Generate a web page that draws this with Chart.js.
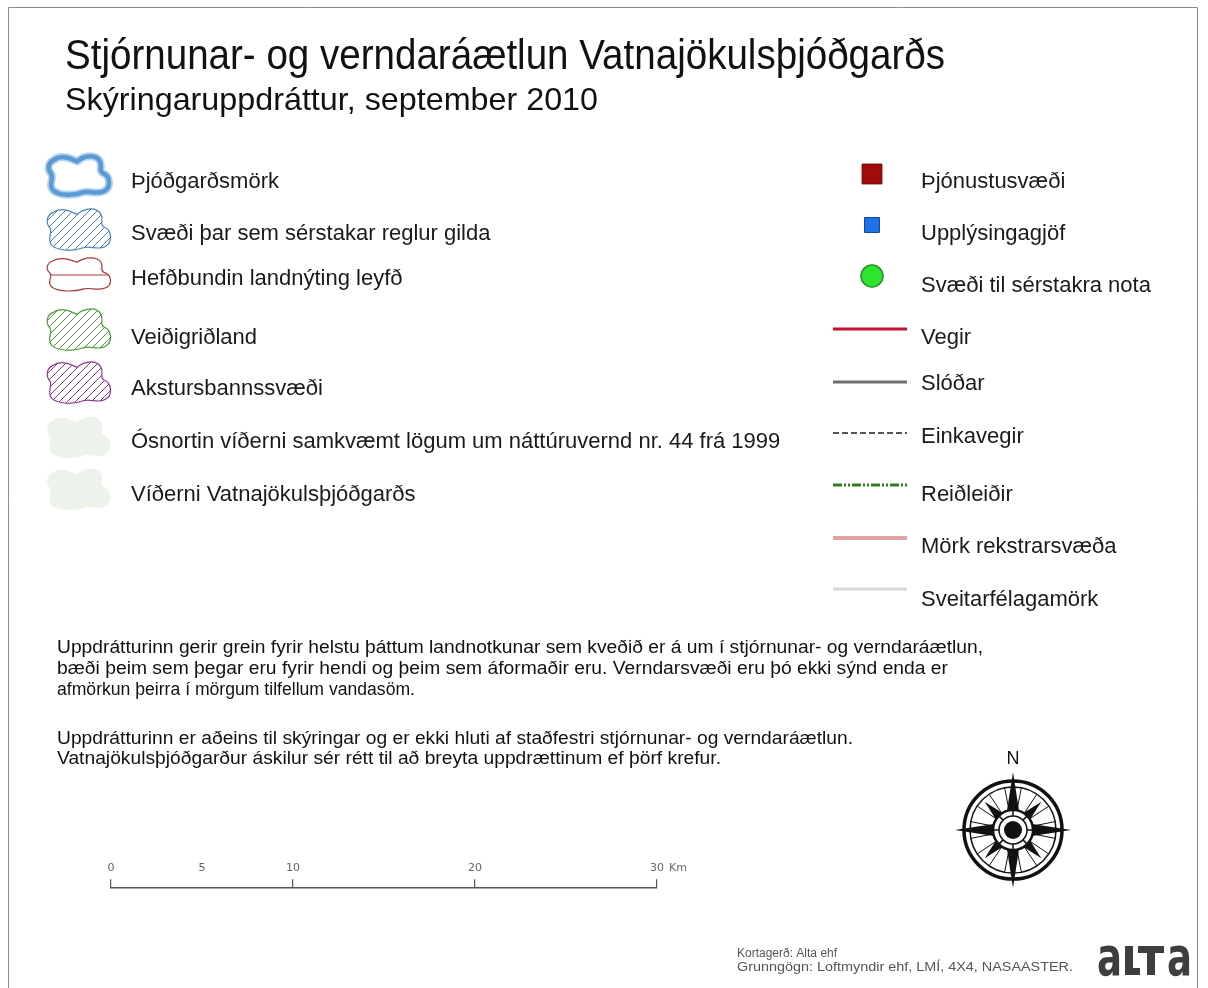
<!DOCTYPE html>
<html><head><meta charset="utf-8">
<script src="https://cdn.jsdelivr.net/npm/chart.js@4"></script>
<style>
html,body{margin:0;padding:0;background:#fff;}
#wrap{position:relative;width:1208px;height:988px;overflow:hidden;background:#fff;}
#main{position:absolute;left:0;top:0;}
#scale{position:absolute;left:0;top:820px;}
</style></head><body>
<div id="wrap">
<canvas id="main" width="1208" height="988"></canvas>
<canvas id="scale" width="1208" height="120"></canvas>
</div>
<script>
// ---------- content (data) ----------
const titleText = 'Stjórnunar- og verndaráætlun Vatnajökulsþjóðgarðs';
const subtitleText = 'Skýringaruppdráttur, september 2010';
const areaLabels = [
  'Þjóðgarðsmörk',
  'Svæði þar sem sérstakar reglur gilda',
  'Hefðbundin landnýting leyfð',
  'Veiðigriðland',
  'Akstursbannssvæði',
  'Ósnortin víðerni samkvæmt lögum um náttúruvernd nr. 44 frá 1999',
  'Víðerni Vatnajökulsþjóðgarðs'
];
const pointLabels = ['Þjónustusvæði', 'Upplýsingagjöf', 'Svæði til sérstakra nota'];
const lineLabels = ['Vegir', 'Slóðar', 'Einkavegir', 'Reiðleiðir', 'Mörk rekstrarsvæða', 'Sveitarfélagamörk'];
const noteLines = [
  'Uppdrátturinn gerir grein fyrir helstu þáttum landnotkunar sem kveðið er á um í stjórnunar- og verndaráætlun,',
  'bæði þeim sem þegar eru fyrir hendi og þeim sem áformaðir eru. Verndarsvæði eru þó ekki sýnd enda er',
  'afmörkun þeirra í mörgum tilfellum vandasöm.',
  'Uppdrátturinn er aðeins til skýringar og er ekki hluti af staðfestri stjórnunar- og verndaráætlun.',
  'Vatnajökulsþjóðgarður áskilur sér rétt til að breyta uppdrættinum ef þörf krefur.'
];
const scaleTicks = [0, 5, 10, 20, 30];
const scaleMajorTicks = [0, 10, 20, 30];
const scaleUnit = 'Km';
const creditLines = ['Kortagerð: Alta ehf', 'Grunngögn: Loftmyndir ehf, LMÍ, 4X4, NASAASTER.'];
const northLabel = 'N';
const logoText = 'a';

// ---------- layout ----------
const LAY = {
  areaSymX: 79, areaSymW: 64, areaSymH: 41,
  areaSymY: [175, 229, 274, 329, 382, 437, 489],
  areaLabelX: 131, areaLabelY: [188, 240, 285, 344, 395, 448, 501],
  rightLabelX: 921, rightLabelY: [188, 240, 292, 344, 390, 443, 501, 553, 606],
  pointSymX: 872, pointSymY: [174, 225, 276],
  lineX0: 833, lineX1: 907, lineY: [329, 382, 433, 485, 538, 589],
  noteX: 57, noteY: [653, 674, 695, 744, 764], noteW: [926, 891, 358, 796, 664],
  compass: {x: 1013, y: 830}, northY: 764,
  scaleLeft: 111, scaleRight: 657
};

// ---------- styles ----------
const areaStyles = [
  {kind: 'thick', color: '#5b9bd5', halo: '#b7d3ef'},
  {kind: 'hatch', color: '#4f81bd'},
  {kind: 'hline', color: '#a83a3a'},
  {kind: 'hatch', color: '#4f9a3a'},
  {kind: 'hatch', color: '#8e3a8e'},
  {kind: 'fill', color: '#edf3ea'},
  {kind: 'fill', color: '#edf3ea'}
];
const pointStyles = [
  {style: 'rect', r: 14, bg: '#a30a0a', border: '#6b0000', bw: 1},
  {style: 'rect', r: 10.5, bg: '#1f72e8', border: '#0c3f99', bw: 1},
  {style: 'circle', r: 11, bg: '#2de52d', border: '#2a8f2a', bw: 1.5}
];
const lineStyles = [
  {color: '#c8102e', width: 3, dash: []},
  {color: '#6e6e6e', width: 3, dash: []},
  {color: '#555555', width: 2, dash: [6, 3]},
  {color: '#2f7d1f', width: 3, dash: [9, 2, 2, 2, 2, 2]},
  {color: '#e3a3a3', width: 4, dash: []},
  {color: '#d8d8d8', width: 3, dash: []}
];
const FONT = '"Liberation Sans", Arial, sans-serif';

function txt(ctx, s, x, y, size, color, targetW, weight) {
  ctx.font = (weight || 'normal') + ' ' + size + 'px ' + FONT;
  ctx.fillStyle = color;
  ctx.textAlign = 'left';
  ctx.textBaseline = 'alphabetic';
  if (targetW) {
    const w = ctx.measureText(s).width;
    ctx.save(); ctx.translate(x, y); ctx.scale(targetW / w, 1); ctx.fillText(s, 0, 0); ctx.restore();
  } else {
    ctx.fillText(s, x, y);
  }
}

function blobPath(ctx, cx, cy, w, h) {
  const sx = w / 64, sy = h / 42;
  const P = (x, y) => [cx + x * sx, cy + y * sy];
  ctx.beginPath();
  ctx.moveTo(...P(-26, -17));
  ctx.bezierCurveTo(...P(-18, -23), ...P(-8, -18), ...P(-2, -15));
  ctx.bezierCurveTo(...P(6, -22), ...P(18, -23), ...P(22, -15));
  ctx.bezierCurveTo(...P(25, -9), ...P(20, -5), ...P(25, -2));
  ctx.bezierCurveTo(...P(33, 1), ...P(34, 14), ...P(26, 18));
  ctx.bezierCurveTo(...P(19, 22), ...P(12, 17), ...P(5, 19));
  ctx.bezierCurveTo(...P(-5, 23), ...P(-20, 23), ...P(-27, 17));
  ctx.bezierCurveTo(...P(-33, 11), ...P(-26, 4), ...P(-29, -1));
  ctx.bezierCurveTo(...P(-34, -7), ...P(-32, -14), ...P(-26, -17));
  ctx.closePath();
}

function drawBlob(ctx, st, cx, cy, w, h) {
  ctx.save();
  if (st.kind === 'thick') {
    blobPath(ctx, cx, cy, w - 3, h - 3);
    ctx.strokeStyle = st.halo; ctx.lineWidth = 8; ctx.lineJoin = 'round'; ctx.stroke();
    ctx.strokeStyle = st.color; ctx.lineWidth = 4.5; ctx.stroke();
  } else if (st.kind === 'hatch') {
    blobPath(ctx, cx, cy, w, h);
    ctx.save(); ctx.clip();
    ctx.strokeStyle = st.color; ctx.lineWidth = 1;
    for (let k = -80; k < 80; k += 8) {
      ctx.beginPath(); ctx.moveTo(cx + k - 30, cy + 30); ctx.lineTo(cx + k + 30, cy - 30); ctx.stroke();
    }
    ctx.restore();
    blobPath(ctx, cx, cy, w, h);
    ctx.strokeStyle = st.color; ctx.lineWidth = 1.2; ctx.stroke();
  } else if (st.kind === 'hline') {
    blobPath(ctx, cx, cy, w, h * 0.8);
    ctx.save(); ctx.clip();
    ctx.strokeStyle = st.color; ctx.lineWidth = 1;
    ctx.beginPath(); ctx.moveTo(cx - 40, cy + 1); ctx.lineTo(cx + 40, cy + 1); ctx.stroke();
    ctx.restore();
    blobPath(ctx, cx, cy, w, h * 0.8);
    ctx.strokeStyle = st.color; ctx.lineWidth = 1.2; ctx.stroke();
  } else {
    blobPath(ctx, cx, cy, w, h);
    ctx.fillStyle = st.color; ctx.fill();
  }
  ctx.restore();
}

function drawCompass(ctx, cx, cy) {
  ctx.save(); ctx.translate(cx, cy);
  ctx.strokeStyle = '#111'; ctx.fillStyle = '#111';
  ctx.lineWidth = 1;
  for (let i = 0; i < 16; i++) {
    const a = i * Math.PI / 8 + Math.PI / 16;
    ctx.beginPath(); ctx.moveTo(Math.cos(a) * 19, Math.sin(a) * 19); ctx.lineTo(Math.cos(a) * 43, Math.sin(a) * 43); ctx.stroke();
  }
  ctx.lineWidth = 3.5; ctx.beginPath(); ctx.arc(0, 0, 49, 0, 2 * Math.PI); ctx.stroke();
  ctx.lineWidth = 1.5; ctx.beginPath(); ctx.arc(0, 0, 43, 0, 2 * Math.PI); ctx.stroke();
  const point = (ang, len, hw) => {
    const c = Math.cos(ang), s = Math.sin(ang), px = -s, py = c;
    ctx.beginPath(); ctx.moveTo(c * len, s * len); ctx.lineTo(px * hw, py * hw); ctx.lineTo(-px * hw, -py * hw); ctx.closePath(); ctx.fill();
  };
  for (let k = 0; k < 4; k++) point(Math.PI / 4 + k * Math.PI / 2, 40, 9);
  for (let k = 0; k < 4; k++) point(k * Math.PI / 2, 58, 9);
  ctx.fillStyle = '#fff'; ctx.beginPath(); ctx.arc(0, 0, 20, 0, 2 * Math.PI); ctx.fill();
  ctx.lineWidth = 2.5; ctx.stroke();
  ctx.lineWidth = 1.5; ctx.beginPath(); ctx.arc(0, 0, 14, 0, 2 * Math.PI); ctx.stroke();
  for (let i = 0; i < 8; i++) {
    const a = i * Math.PI / 4;
    ctx.beginPath(); ctx.moveTo(Math.cos(a) * 14, Math.sin(a) * 14); ctx.lineTo(Math.cos(a) * 20, Math.sin(a) * 20); ctx.stroke();
  }
  ctx.fillStyle = '#111'; ctx.beginPath(); ctx.arc(0, 0, 9, 0, 2 * Math.PI); ctx.fill();
  ctx.restore();
}

function drawLogo(ctx) {
  const col = '#3e3e3e';
  ctx.save();
  ctx.fillStyle = col;
  ctx.font = 'bold 53px "DejaVu Sans", sans-serif';
  ctx.textBaseline = 'alphabetic';
  const wa = ctx.measureText(logoText).width;
  [1097, 1167].forEach(x => {
    ctx.save(); ctx.translate(x, 975); ctx.scale(25 / wa, 1); ctx.fillText(logoText, 0, 0); ctx.restore();
  });
  ctx.fillRect(1125, 946, 8, 29);
  ctx.fillRect(1125, 968, 15, 7);
  ctx.fillRect(1138, 946, 26, 7);
  ctx.fillRect(1147, 946, 8, 29);
  ctx.restore();
}

const decor = {
  id: 'decor',
  beforeDraw(chart) {
    const ctx = chart.ctx;
    ctx.save();
    ctx.fillStyle = '#fff'; ctx.fillRect(0, 0, chart.width, chart.height);
    ctx.strokeStyle = '#8a8a8a'; ctx.lineWidth = 1;
    ctx.beginPath(); ctx.moveTo(8.5, 988); ctx.lineTo(8.5, 7.5); ctx.lineTo(1197.5, 7.5); ctx.lineTo(1197.5, 988); ctx.stroke();
    areaStyles.forEach((st, i) => drawBlob(ctx, st, LAY.areaSymX, LAY.areaSymY[i], LAY.areaSymW, LAY.areaSymH));
    ctx.restore();
  },
  afterDraw(chart) {
    const ctx = chart.ctx;
    ctx.save();
    txt(ctx, titleText, 65, 69, 42, '#111', 880);
    txt(ctx, subtitleText, 65, 110, 32, '#111', 533);
    areaLabels.forEach((s, i) => txt(ctx, s, LAY.areaLabelX, LAY.areaLabelY[i], 22, '#1a1a1a'));
    pointLabels.concat(lineLabels).forEach((s, i) => txt(ctx, s, LAY.rightLabelX, LAY.rightLabelY[i], 22, '#1a1a1a'));
    noteLines.forEach((s, i) => txt(ctx, s, LAY.noteX, LAY.noteY[i], 17.5, '#111', LAY.noteW[i]));
    ctx.font = '18px ' + FONT; ctx.fillStyle = '#111'; ctx.textAlign = 'center';
    ctx.fillText(northLabel, LAY.compass.x, LAY.northY);
    drawCompass(ctx, LAY.compass.x, LAY.compass.y);
    txt(ctx, creditLines[0], 737, 957, 12, '#555');
    txt(ctx, creditLines[1], 737, 971, 12, '#555', 336);
    drawLogo(ctx);
    ctx.restore();
  }
};

const datasets = [];
pointLabels.forEach((lab, i) => {
  const st = pointStyles[i];
  datasets.push({
    label: lab,
    data: [{x: LAY.pointSymX, y: LAY.pointSymY[i]}],
    pointStyle: st.style, pointRadius: st.r, backgroundColor: st.bg, borderColor: st.border, borderWidth: st.bw
  });
});
lineLabels.forEach((lab, i) => {
  const st = lineStyles[i];
  datasets.push({
    type: 'line', label: lab, showLine: true,
    data: [{x: LAY.lineX0, y: LAY.lineY[i]}, {x: LAY.lineX1, y: LAY.lineY[i]}],
    borderColor: st.color, borderWidth: st.width, borderDash: st.dash, borderCapStyle: 'butt',
    pointRadius: 0, fill: false, tension: 0
  });
});

new Chart(document.getElementById('main'), {
  type: 'scatter',
  data: {datasets},
  options: {
    responsive: false, animation: false, events: [],
    layout: {padding: 0, autoPadding: false},
    plugins: {legend: {display: false}, tooltip: {enabled: false}},
    scales: {
      x: {type: 'linear', min: 0, max: 1208, display: false},
      y: {type: 'linear', min: 0, max: 988, reverse: true, display: false}
    }
  },
  plugins: [decor]
});

// ---------- scale bar ----------
const unitPlugin = {
  id: 'unit',
  afterDraw(chart) {
    const sc = chart.scales.x, ctx = chart.ctx;
    const last = scaleTicks[scaleTicks.length - 1];
    ctx.save();
    ctx.font = '11px "DejaVu Sans", sans-serif';
    ctx.fillStyle = '#666';
    ctx.textAlign = 'left'; ctx.textBaseline = 'middle';
    const lw = ctx.measureText(String(last)).width;
    const y = chart.chartArea.top - 9 - 4 - 6.6;
    ctx.fillText(scaleUnit, sc.getPixelForValue(last) + lw / 2 + 5, y);
    ctx.restore();
  }
};

new Chart(document.getElementById('scale'), {
  type: 'scatter',
  data: {datasets: [{data: []}]},
  options: {
    responsive: false, animation: false, events: [],
    layout: {padding: {left: LAY.scaleLeft, right: 1208 - LAY.scaleRight, top: 38, bottom: 5}, autoPadding: false},
    plugins: {legend: {display: false}, tooltip: {enabled: false}},
    scales: {
      x: {
        type: 'linear', position: 'top', min: scaleTicks[0], max: scaleTicks[scaleTicks.length - 1],
        afterBuildTicks: (s) => { s.ticks = scaleTicks.map(v => ({value: v})); },
        grid: {
          drawOnChartArea: false, drawTicks: true, tickLength: 9, lineWidth: 1.2,
          color: (c) => (c.tick && scaleMajorTicks.includes(c.tick.value)) ? '#555' : 'rgba(0,0,0,0)'
        },
        border: {display: true, color: '#555', width: 1.5},
        ticks: {font: {family: '"DejaVu Sans", sans-serif', size: 11}, color: '#666', padding: 4, maxRotation: 0, autoSkip: false}
      },
      y: {display: false, min: 0, max: 1}
    }
  },
  plugins: [unitPlugin]
});
</script>
</body></html>
